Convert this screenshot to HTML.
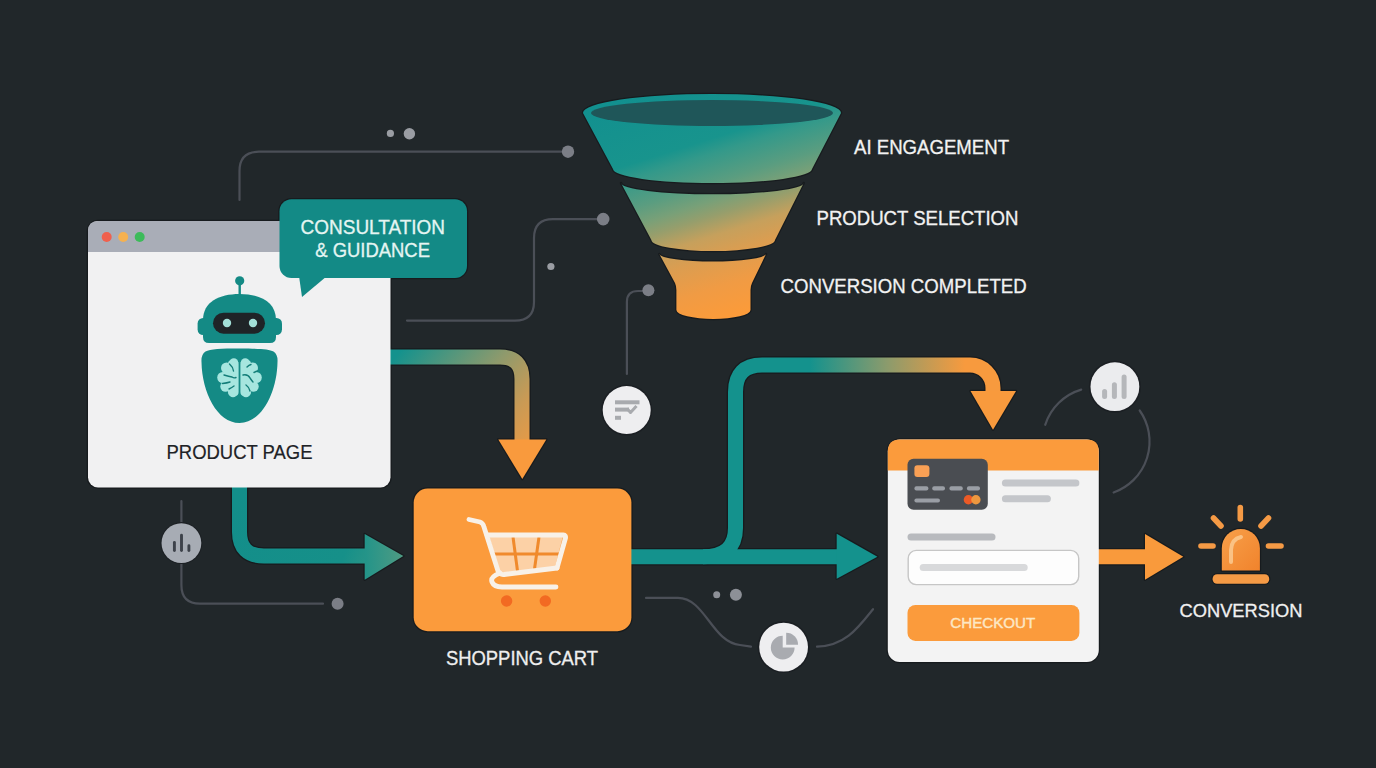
<!DOCTYPE html>
<html><head><meta charset="utf-8"><title>Funnel</title>
<style>
html,body{margin:0;padding:0;background:#21272a;width:1376px;height:768px;overflow:hidden;}
svg{display:block;}
text{font-family:"Liberation Sans",sans-serif;}
</style></head><body>
<svg width="1376" height="768" viewBox="0 0 1376 768">
<defs>
  <linearGradient id="gA1" gradientUnits="userSpaceOnUse" x1="395" y1="357" x2="530" y2="475">
    <stop offset="0" stop-color="#14928d"/><stop offset="0.45" stop-color="#8f9a6c"/><stop offset="0.7" stop-color="#c99a55"/><stop offset="1" stop-color="#f99a3d"/>
  </linearGradient>
  <linearGradient id="gA2" gradientUnits="userSpaceOnUse" x1="240" y1="490" x2="400" y2="556">
    <stop offset="0" stop-color="#138e8a"/><stop offset="0.7" stop-color="#169089"/><stop offset="1" stop-color="#3e9a85"/>
  </linearGradient>
  <linearGradient id="gA3" gradientUnits="userSpaceOnUse" x1="810" y1="0" x2="965" y2="0">
    <stop offset="0" stop-color="#14928d"/><stop offset="0.5" stop-color="#8c9b6c"/><stop offset="1" stop-color="#f79a3e"/>
  </linearGradient>
  <linearGradient id="gF" gradientUnits="userSpaceOnUse" x1="597" y1="107" x2="669" y2="335">
    <stop offset="0" stop-color="#12908f"/><stop offset="0.27" stop-color="#18948d"/><stop offset="0.33" stop-color="#33998a"/><stop offset="0.45" stop-color="#5a9d80"/><stop offset="0.52" stop-color="#78a078"/><stop offset="0.58" stop-color="#969e6c"/><stop offset="0.66" stop-color="#c6a05c"/><stop offset="0.75" stop-color="#dc9d50"/><stop offset="0.87" stop-color="#f09b44"/><stop offset="1" stop-color="#fb9b3a"/>
  </linearGradient>
  <linearGradient id="gA2h" gradientUnits="userSpaceOnUse" x1="365" y1="0" x2="403" y2="0">
    <stop offset="0" stop-color="#239489"/><stop offset="1" stop-color="#4f9b83"/>
  </linearGradient>
  <linearGradient id="gAlarm" x1="0" y1="0" x2="1" y2="1">
    <stop offset="0" stop-color="#f7a04a"/><stop offset="1" stop-color="#f1832c"/>
  </linearGradient>
</defs>

<!-- thin connector lines -->
<g fill="none" stroke="#4b4f57" stroke-width="2.2" stroke-linecap="round">
  <path d="M239.5,200 V171 Q239.5,151.7 259,151.7 H568"/>
  <path d="M407,320.6 H515 Q534,320.6 534,302 V238 Q534,219.1 553,219.1 H603"/>
  <path d="M648,291 H638 Q626.9,291 626.9,302 V374"/>
  <path d="M181.4,501 V523 M181.4,563 V585 Q181.4,603.7 200,603.7 H323"/>
  <path d="M646,597.9 H678 C705,597.9 712,642.4 740,645 L751,646.7"/>
  <path d="M817,646.7 C845,646 858,628 873,609.2"/>
  <path d="M1081.2,389.6 A54,54 0 0 0 1045.2,424.8"/>
  <path d="M1139.7,410.5 A54,54 0 0 1 1113.6,492.5"/>
</g>
<g fill="#7b7e86">
  <circle cx="390.4" cy="133.4" r="3.6" fill="#9a9da3"/><circle cx="409.4" cy="133.8" r="5.7" fill="#9a9da3"/>
  <circle cx="568" cy="151.7" r="6.2"/>
  <circle cx="603.2" cy="219.1" r="6.3"/>
  <circle cx="550.9" cy="266.5" r="3.6" fill="#9a9da3"/>
  <circle cx="648.4" cy="290.3" r="6"/>
  <circle cx="337.6" cy="603.7" r="6"/>
  <circle cx="716.7" cy="594.8" r="3.5" fill="#8d9097"/><circle cx="735.9" cy="594.8" r="6" fill="#8d9097"/>
</g>

<!-- dark outlines -->
<g fill="none" stroke="#171b1e" stroke-width="17.5">
  <path d="M388,357 H500 Q522,357 522,379 V441"/>
  <path d="M239.5,485 V532 Q239.5,556 264,556 H367"/>
  <path d="M629,556.7 H839"/>
  <path d="M703,556.7 Q735.5,556.7 735.5,528 V392 Q735.5,365 762,365 H970 A23,23 0 0 1 993,388 V393"/>
  <path d="M1097,556.8 H1147"/>
</g>
<g fill="#171b1e" stroke="#171b1e" stroke-width="2.5" stroke-linejoin="round">
  <polygon points="498.3,439.4 546.3,439.4 522.3,479"/>
  <polygon points="364.7,534 403.4,556 364.7,579.7"/>
  <polygon points="836.7,533.7 877.4,556.7 836.7,578.7"/>
  <polygon points="970.5,391 1016,391 993,429.7"/>
  <polygon points="1145,533.9 1183.3,556.8 1145,579.8"/>
  <rect x="88" y="221" width="302.5" height="266.4" rx="10"/>
  <rect x="279.5" y="199.2" width="187.5" height="78.8" rx="12"/>
  <polygon points="299,276 327,276 302,297"/>
  <rect x="413.7" y="488.6" width="217.7" height="142.6" rx="14"/>
  <rect x="887.8" y="439.4" width="211" height="222.5" rx="12"/>
  <path d="M583,113 A129,19 0 0 1 841,113 L812,169 A99.5,14 0 0 1 613,169 Z"/>
  <path d="M621,183 A91.35,11.3 0 0 0 803.7,183 L775,240 A61.8,11 0 0 1 651.4,240 Z"/>
  <path d="M659.3,254 A53.4,7.8 0 0 0 766,254 L752,283 Q750.5,286 750.5,290 V310 A37,9 0 0 1 676.4,310 V290 Q676.4,286 675,283 Z"/>
  <path d="M1221.8,570.4 V548 A19.05,19.05 0 0 1 1259.9,548 V570.4 Z"/>
  <rect x="1212.6" y="574.3" width="56.6" height="9.4" rx="4.5"/>
</g>

<!-- funnel -->
<g>
  <path d="M583,113 A129,19 0 0 1 841,113 L812,169 A99.5,14 0 0 1 613,169 Z" fill="url(#gF)"/>
  <ellipse cx="712" cy="113" rx="121" ry="13" fill="#1f5659"/>
  <path d="M621,183 A91.35,11.3 0 0 0 803.7,183 L775,240 A61.8,11 0 0 1 651.4,240 Z" fill="url(#gF)"/>
  <path d="M659.3,254 A53.4,7.8 0 0 0 766,254 L752,283 Q750.5,286 750.5,290 V310 A37,9 0 0 1 676.4,310 V290 Q676.4,286 675,283 Z" fill="url(#gF)"/>
</g>
<g fill="#f2f2f2" stroke="#f2f2f2" stroke-width="0.3" font-size="19.5">
  <text x="854" y="154" textLength="155" lengthAdjust="spacingAndGlyphs">AI ENGAGEMENT</text>
  <text x="816.5" y="224.7" textLength="202" lengthAdjust="spacingAndGlyphs">PRODUCT SELECTION</text>
  <text x="780.6" y="293.3" textLength="246" lengthAdjust="spacingAndGlyphs">CONVERSION COMPLETED</text>
</g>

<!-- arrows -->
<g fill="none" stroke-width="15">
  <path d="M388,357 H500 Q522,357 522,379 V441" stroke="url(#gA1)"/>
  <path d="M239.5,485 V532 Q239.5,556 264,556 H367" stroke="url(#gA2)"/>
  <path d="M629,556.7 H839" stroke="#14928d"/>
  <path d="M703,556.7 Q735.5,556.7 735.5,528 V392 Q735.5,365 762,365 H970 A23,23 0 0 1 993,388 V393" stroke="url(#gA3)"/>
  <path d="M1097,556.8 H1147" stroke="#f99a3c"/>
</g>
<polygon points="498.3,439.4 546.3,439.4 522.3,479" fill="#f99a3d"/>
<polygon points="364.7,534 403.4,556 364.7,579.7" fill="url(#gA2h)"/>
<polygon points="836.7,533.7 877.4,556.7 836.7,578.7" fill="#14928d"/>
<polygon points="970.5,391 1016,391 993,429.7" fill="#f89a3d"/>
<polygon points="1145,533.9 1183.3,556.8 1145,579.8" fill="#f99a3c"/>

<!-- browser window -->
<g>
  <rect x="88" y="221" width="302.5" height="266.4" rx="10" fill="#f1f1f2"/>
  <path d="M88,252 V231 Q88,221 98,221 H380.5 Q390.5,221 390.5,231 V252 Z" fill="#a9adb7"/>
  <circle cx="106.7" cy="237" r="5" fill="#f0604d"/>
  <circle cx="123.2" cy="237" r="5" fill="#f5b150"/>
  <circle cx="139.7" cy="237" r="5" fill="#3dbb5a"/>
  <text x="239.5" y="458.8" font-size="20" fill="#1e2226" stroke="#1e2226" stroke-width="0.2" text-anchor="middle" textLength="146" lengthAdjust="spacingAndGlyphs">PRODUCT PAGE</text>
</g>
<!-- robot -->
<g fill="#148a85">
  <line x1="239.7" y1="283" x2="239.7" y2="296" stroke="#148a85" stroke-width="2.4"/>
  <circle cx="239.7" cy="280.8" r="4.6"/>
  <rect x="197.6" y="318" width="12" height="17" rx="5.5"/>
  <rect x="270" y="318" width="12" height="17" rx="5.5"/>
  <path d="M203,337 V320 C203,302 219,294 239.5,294 C260,294 276,302 276,320 V337 Q276,343 270,343 H209 Q203,343 203,337 Z"/>
  <path d="M239.5,348.5 C258,348.5 269,349 273.5,351.5 Q278,354.5 277.5,362 C277,392 262,423 239.5,423 C217,423 202,392 201.5,362 Q201,354.5 205.5,351.5 C210,349 221,348.5 239.5,348.5 Z"/>
</g>
<rect x="213" y="312.7" width="52" height="21" rx="10.5" fill="#1f2427"/>
<circle cx="227" cy="323" r="4.2" fill="#a3e0d8"/>
<circle cx="253" cy="323" r="4.2" fill="#a3e0d8"/>
<!-- brain -->
<g fill="#a6e6df">
  <circle cx="233.8" cy="362.6" r="4.4"/>
  <circle cx="226.6" cy="368" r="5.6"/>
  <circle cx="222.8" cy="377.5" r="5.6"/>
  <circle cx="225.5" cy="386.5" r="5.2"/>
  <circle cx="233" cy="392.8" r="4.4"/>
  <rect x="228" y="360" width="10.6" height="36" rx="4"/>
  <rect x="224" y="368" width="10" height="22"/>
  <circle cx="245.2" cy="362.6" r="4.4"/>
  <circle cx="252.4" cy="368" r="5.6"/>
  <circle cx="256.2" cy="377.5" r="5.6"/>
  <circle cx="253.5" cy="386.5" r="5.2"/>
  <circle cx="246" cy="392.8" r="4.4"/>
  <rect x="240.4" y="360" width="10.6" height="36" rx="4"/>
  <rect x="245" y="368" width="10" height="22"/>
</g>
<g fill="none" stroke="#137d78" stroke-width="1.4" stroke-linecap="round">
  <path d="M229.5,364 Q233,367 233.5,371"/>
  <path d="M224,375 Q229,376.5 232,377 Q234,378.5 236,377.5"/>
  <path d="M222.5,383.5 Q227,383 230,382"/>
  <path d="M229,389 Q232,387.5 234,386"/>
  <path d="M247,367 Q249,365 251,364.5"/>
  <path d="M243,375 Q248,374 250,378 Q252,381 253,382"/>
  <path d="M254,372.5 Q256,371.5 257.5,371"/>
  <path d="M246,385 Q249,387 250,391"/>
</g>

<!-- speech bubble -->
<g>
  <rect x="279.5" y="199.2" width="187.5" height="78.8" rx="12" fill="#138a86"/>
  <polygon points="299,276 327,276 302,297" fill="#138a86"/>
  <g fill="#e4f5f2" stroke="#e4f5f2" stroke-width="0.3" font-size="19.5" text-anchor="middle">
    <text x="372.8" y="234" textLength="144.4" lengthAdjust="spacingAndGlyphs">CONSULTATION</text>
    <text x="372.6" y="256.5" textLength="114.7" lengthAdjust="spacingAndGlyphs">&amp; GUIDANCE</text>
  </g>
</g>

<!-- shopping cart -->
<g>
  <rect x="413.7" y="488.6" width="217.7" height="142.6" rx="14" fill="#fb9b3c"/>
  <path d="M489,536 H563 L555,567 L500,573 Z" fill="#fcd1a6"/>
  <g stroke="#f08a2c" stroke-width="3" fill="none">
    <path d="M494,554 H560"/>
    <path d="M513,537 L517.5,571"/>
    <path d="M539,537 L534.5,569"/>
  </g>
  <g fill="none" stroke="#f8f1e8" stroke-width="4.8" stroke-linecap="round" stroke-linejoin="round">
    <path d="M469,519.5 L480,522 Q483,523 484,527 L498,571 Q500,575 504,574.5 L557,568"/>
    <path d="M487,535 H563.5 Q566,535 565.5,538 L557,568"/>
    <path d="M500,573 Q490,577 492,582 Q494,587 502,587 H556"/>
  </g>
  <circle cx="506.6" cy="601" r="5.7" fill="#f26a22"/>
  <circle cx="545.3" cy="601" r="5.7" fill="#f26a22"/>
</g>
<text x="522" y="665.4" font-size="19.5" fill="#eeeeee" stroke="#eeeeee" stroke-width="0.3" text-anchor="middle" textLength="152.2" lengthAdjust="spacingAndGlyphs">SHOPPING CART</text>

<!-- checkout card -->
<g>
  <rect x="887.8" y="439.4" width="211" height="222.5" rx="12" fill="#f3f3f3"/>
  <path d="M887.8,470.6 V451.4 Q887.8,439.4 899.8,439.4 H1086.8 Q1098.8,439.4 1098.8,451.4 V470.6 Z" fill="#fb9b3c"/>
  <rect x="907.5" y="458.8" width="80.3" height="51" rx="6" fill="#4a4d52"/>
  <rect x="914.4" y="465.3" width="15" height="11.6" rx="3" fill="#f9a055"/>
  <g fill="#9a9ea5">
    <rect x="914.4" y="486.2" width="14" height="4.4" rx="2"/>
    <rect x="932.2" y="486.2" width="12.8" height="4.4" rx="2"/>
    <rect x="949.4" y="486.2" width="13.4" height="4.4" rx="2"/>
    <rect x="966.9" y="486.2" width="13.1" height="4.4" rx="2"/>
    <rect x="914.4" y="498.6" width="25.6" height="4" rx="2"/>
  </g>
  <circle cx="968.4" cy="499.7" r="4.7" fill="#ec5a26"/>
  <circle cx="975.9" cy="499.7" r="4.7" fill="#f59b3e" opacity="0.95"/>
  <rect x="1001.9" y="479.5" width="77.5" height="7" rx="3.5" fill="#c4c6ca"/>
  <rect x="1001.9" y="495.2" width="49" height="7" rx="3.5" fill="#c4c6ca"/>
  <rect x="907.5" y="533.4" width="88" height="7" rx="3.5" fill="#b8babe"/>
  <rect x="908.2" y="550.4" width="170.5" height="34.2" rx="8" fill="#fdfdfd" stroke="#c6c6c6" stroke-width="1.4"/>
  <rect x="919.7" y="564" width="108" height="7" rx="3.5" fill="#d8d9db"/>
  <rect x="907.5" y="605" width="171.9" height="35.9" rx="8" fill="#fb9b3c"/>
  <text x="992.8" y="628.4" font-size="15" fill="#fde7c4" stroke="#fde7c4" stroke-width="0.45" text-anchor="middle" textLength="85" lengthAdjust="spacingAndGlyphs">CHECKOUT</text>
</g>

<!-- alarm -->
<g>
  <g stroke="#f59a45" stroke-width="5.6" stroke-linecap="round">
    <line x1="1240.3" y1="507.5" x2="1240.3" y2="519"/>
    <line x1="1213.5" y1="518" x2="1221" y2="526"/>
    <line x1="1268.5" y1="518" x2="1261" y2="526"/>
    <line x1="1201" y1="546" x2="1213" y2="546"/>
    <line x1="1268.5" y1="546" x2="1281" y2="546"/>
  </g>
  <path d="M1221.8,570.4 V548 A19.05,19.05 0 0 1 1259.9,548 V570.4 Z" fill="url(#gAlarm)"/>
  <path d="M1231,562 V550 Q1231.5,539 1241,537" fill="none" stroke="#fbc68c" stroke-width="4" stroke-linecap="round" opacity="0.9"/>
  <rect x="1212.6" y="574.3" width="56.6" height="9.4" rx="4.5" fill="#f59a45"/>
</g>
<text x="1241" y="617.3" font-size="19" fill="#f0f0f0" stroke="#f0f0f0" stroke-width="0.3" text-anchor="middle" textLength="123" lengthAdjust="spacingAndGlyphs">CONVERSION</text>

<!-- icon circles -->
<g>
  <circle cx="181.4" cy="543.1" r="21" fill="#1c2024"/>
  <circle cx="181.4" cy="543.1" r="19.9" fill="#a7acb4"/>
  <g stroke="#3d424a" stroke-width="2.9" stroke-linecap="round">
    <line x1="174.4" y1="542.5" x2="174.4" y2="550.5"/>
    <line x1="181.5" y1="535.3" x2="181.5" y2="550.5"/>
    <line x1="188.9" y1="545.7" x2="188.9" y2="550.5"/>
  </g>

  <circle cx="626.7" cy="410.1" r="25.5" fill="#1b1f23"/>
  <circle cx="626.7" cy="410.1" r="24" fill="#eeeef0"/>
  <g stroke="#a8aaae" stroke-width="4" stroke-linecap="butt" fill="none">
    <line x1="615" y1="402.3" x2="639.5" y2="402.3"/>
    <line x1="615" y1="409.6" x2="629" y2="409.6"/>
    <line x1="615" y1="417.8" x2="621" y2="417.8"/>
    <path d="M627,408.5 L630.5,412.5 L636.5,406" stroke-width="3" stroke-linejoin="round"/>
  </g>

  <circle cx="783.6" cy="647.1" r="26" fill="#1b1f23"/>
  <circle cx="783.6" cy="647.1" r="24.4" fill="#eeeef0"/>
  <path d="M782.7,647.6 V635.7 A11.9,11.9 0 1 0 794.6,647.6 Z" fill="#a9abb0"/>
  <path d="M786.2,644.7 V632.8 A11.9,11.9 0 0 1 798.1,644.7 Z" fill="#a9abb0"/>

  <circle cx="1114.9" cy="386.7" r="26" fill="#1b1f23"/>
  <circle cx="1114.9" cy="386.7" r="24.4" fill="#ebecee"/>
  <g stroke="#b5b7ba" stroke-width="5" stroke-linecap="round">
    <line x1="1104.6" y1="391.5" x2="1104.6" y2="396.5"/>
    <line x1="1114.4" y1="384.7" x2="1114.4" y2="396.5"/>
    <line x1="1124.1" y1="376.9" x2="1124.1" y2="396.5"/>
  </g>
</g>
</svg>
</body></html>
